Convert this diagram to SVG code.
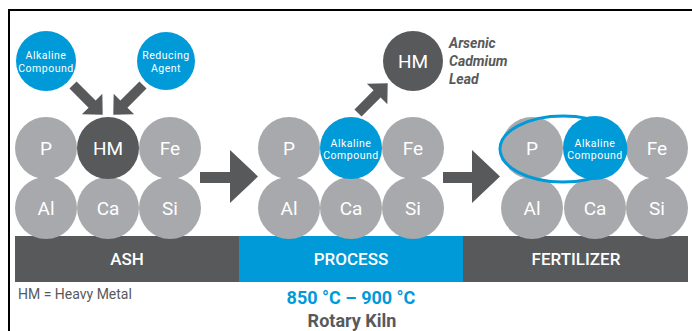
<svg xmlns="http://www.w3.org/2000/svg" width="692" height="331" viewBox="0 0 692 331">
<style>
.g{fill:#a7a9ac}
.d{fill:#58595b}
.b{fill:#009ad8}
.ct{font-family:Roboto,"Liberation Sans",sans-serif;font-size:19px;fill:#fff;text-anchor:middle}
.st{font-family:Roboto,"Liberation Sans",sans-serif;font-size:10.5px;fill:#fff;text-anchor:middle;letter-spacing:0.5px}
.bt{font-family:Roboto,"Liberation Sans",sans-serif;font-size:17px;font-weight:500;fill:#fff;text-anchor:middle}
.ar{fill:#58595b}
</style>
<defs>
<polygon id="sa" points="0,-5 27,-5 27,-14.5 42,0 27,14.5 27,5 0,5"/>
</defs>
<rect width="692" height="331" fill="#fff"/>
<path d="M9,331 V10 H692" fill="none" stroke="#000" stroke-width="2"/>

<g id="bars">
<rect x="15" y="236" width="224" height="46" class="d"/>
<rect x="239" y="236" width="224" height="46" class="b"/>
<rect x="463" y="236" width="225" height="46" class="d"/>
</g>

<g id="ash">
<circle cx="46" cy="208" r="31" class="g"/><text x="46" y="215" class="ct">Al</text>
<circle cx="108" cy="208" r="31" class="g"/><text x="108" y="215" class="ct">Ca</text>
<circle cx="170" cy="208" r="31" class="g"/><text x="170" y="215" class="ct">Si</text>
<circle cx="46" cy="148" r="31" class="g"/><text x="46" y="155" class="ct">P</text>
<circle cx="108" cy="148" r="31" class="d"/><text x="108" y="155" class="ct">HM</text>
<circle cx="170" cy="148" r="31" class="g"/><text x="170" y="155" class="ct">Fe</text>
</g>
<g id="alkaline1">
<circle cx="46" cy="61" r="30" class="b"/>
<text x="46" y="59" class="st">Alkaline</text><text x="46" y="72" class="st">Compound</text>
</g>
<g id="reducing">
<circle cx="166" cy="61" r="29" class="b"/>
<text x="166" y="59" class="st">Reducing</text><text x="166" y="72" class="st">Agent</text>
</g>

<g id="process">
<circle cx="289" cy="208" r="31" class="g"/><text x="289" y="215" class="ct">Al</text>
<circle cx="351" cy="208" r="31" class="g"/><text x="351" y="215" class="ct">Ca</text>
<circle cx="413" cy="208" r="31" class="g"/><text x="413" y="215" class="ct">Si</text>
<circle cx="289" cy="148" r="31" class="g"/><text x="289" y="155" class="ct">P</text>
<circle cx="351" cy="148" r="31" class="b"/><text x="351" y="146.5" class="st">Alkaline</text><text x="351" y="159" class="st">Compound</text>
<circle cx="413" cy="148" r="31" class="g"/><text x="413" y="155" class="ct">Fe</text>
</g>
<g id="hm-out">
<circle cx="413" cy="61" r="30" class="d"/><text x="413" y="68" class="ct">HM</text>
<g font-family="Roboto,'Liberation Sans',sans-serif" font-size="14" font-weight="bold" font-style="italic" fill="#58595b">
<text x="449" y="48">Arsenic</text>
<text x="449" y="66">Cadmium</text>
<text x="449" y="84">Lead</text>
</g>
</g>

<g id="fertilizer">
<circle cx="532" cy="208" r="31" class="g"/><text x="532" y="215" class="ct">Al</text>
<circle cx="595" cy="208" r="31" class="g"/><text x="595" y="215" class="ct">Ca</text>
<circle cx="657" cy="208" r="31" class="g"/><text x="657" y="215" class="ct">Si</text>
<circle cx="532" cy="148" r="31" class="g"/><text x="532" y="155" class="ct">P</text>
<circle cx="595" cy="148" r="32" class="b"/><text x="595" y="146.5" class="st">Alkaline</text><text x="595" y="159" class="st">Compound</text>
<circle cx="657" cy="148" r="31" class="g"/><text x="657" y="155" class="ct">Fe</text>
<ellipse cx="563" cy="149" rx="63" ry="33" fill="none" stroke="#009ad8" stroke-width="3"/>
</g>

<g id="connectors">
<use href="#sa" class="ar" transform="translate(73,85) rotate(45)"/>
<use href="#sa" class="ar" transform="translate(143,85) rotate(135)"/>
<use href="#sa" class="ar" transform="translate(358,113) rotate(-45)"/>
<polygon class="ar" points="200,172 230,172 230,150 258,176.5 230,203 230,183 200,183"/>
<polygon class="ar" points="443,172 472,172 472,150 500,176.5 472,203 472,183 443,183"/>
</g>

<g id="labels">
<text x="127" y="265" class="bt">ASH</text>
<text x="351" y="265" class="bt">PROCESS</text>
<text x="576" y="265" class="bt">FERTILIZER</text>
<text x="18" y="299" font-family="Roboto,'Liberation Sans',sans-serif" font-size="14" fill="#58595b">HM = Heavy Metal</text>
<text x="351" y="304" font-family="Roboto,'Liberation Sans',sans-serif" font-size="18" font-weight="bold" fill="#009ad8" text-anchor="middle">850 °C – 900 °C</text>
<text x="352" y="327" font-family="Roboto,'Liberation Sans',sans-serif" font-size="18" font-weight="bold" fill="#58595b" text-anchor="middle">Rotary Kiln</text>
</g>
</svg>
